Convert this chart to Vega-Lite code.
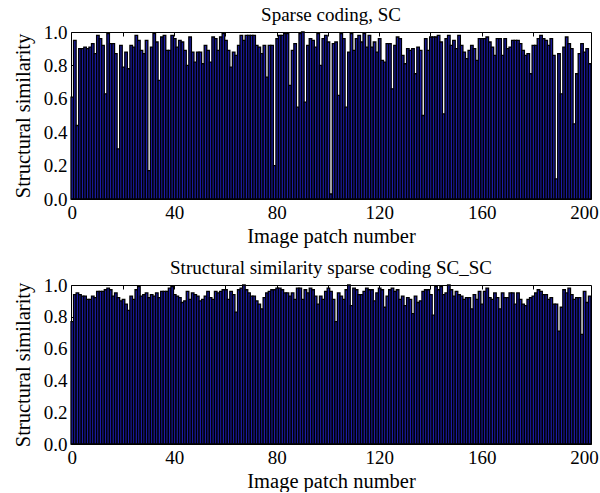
{
"$schema": "https://vega.github.io/schema/vega-lite/v6.json",
"background": "white",
"padding": {"left": 12, "top": 5, "right": 0, "bottom": 0},
"config": {
 "font": "Liberation Serif",
 "view": {"stroke": "black", "strokeWidth": 1},
 "axis": {"labelFont": "Liberation Serif", "labelFontSize": 19, "labelColor": "black", "titleFont": "Liberation Serif", "titleFontSize": 20.5, "titleFontWeight": "normal", "titleColor": "black", "domain": false, "grid": false, "ticks": true, "tickSize": -4, "tickColor": "black", "labelPadding": 8, "zindex": 1},
 "axisX": {"titlePadding": 4},
 "axisY": {"titlePadding": 10},
 "title": {"font": "Liberation Serif", "fontSize": 19, "fontWeight": "normal", "color": "black", "offset": -2, "frame": "group"}
},
"datasets": {
 "sc": [{"i":0,"v":0.61},{"i":1,"v":0.95},{"i":2,"v":0.44},{"i":3,"v":0.90},{"i":4,"v":0.90},{"i":5,"v":0.91},{"i":6,"v":0.90},{"i":7,"v":0.91},{"i":8,"v":0.93},{"i":9,"v":0.87},{"i":10,"v":0.98},{"i":11,"v":0.96},{"i":12,"v":0.92},{"i":13,"v":0.63},{"i":14,"v":0.99},{"i":15,"v":0.93},{"i":16,"v":0.93},{"i":17,"v":0.87},{"i":18,"v":0.30},{"i":19,"v":0.92},{"i":20,"v":0.79},{"i":21,"v":0.88},{"i":22,"v":0.78},{"i":23,"v":0.92},{"i":24,"v":0.91},{"i":25,"v":0.98},{"i":26,"v":0.95},{"i":27,"v":0.89},{"i":28,"v":0.87},{"i":29,"v":0.95},{"i":30,"v":0.17},{"i":31,"v":0.91},{"i":32,"v":0.99},{"i":33,"v":0.94},{"i":34,"v":0.71},{"i":35,"v":0.97},{"i":36,"v":0.98},{"i":37,"v":0.89},{"i":38,"v":0.89},{"i":39,"v":0.98},{"i":40,"v":0.96},{"i":41,"v":0.91},{"i":42,"v":0.95},{"i":43,"v":0.94},{"i":44,"v":0.89},{"i":45,"v":0.80},{"i":46,"v":0.97},{"i":47,"v":0.88},{"i":48,"v":0.82},{"i":49,"v":0.88},{"i":50,"v":0.88},{"i":51,"v":0.81},{"i":52,"v":0.92},{"i":53,"v":0.89},{"i":54,"v":0.82},{"i":55,"v":0.97},{"i":56,"v":0.96},{"i":57,"v":0.89},{"i":58,"v":0.97},{"i":59,"v":0.99},{"i":60,"v":0.95},{"i":61,"v":0.89},{"i":62,"v":0.79},{"i":63,"v":0.88},{"i":64,"v":0.86},{"i":65,"v":0.92},{"i":66,"v":0.98},{"i":67,"v":0.95},{"i":68,"v":0.98},{"i":69,"v":0.98},{"i":70,"v":0.98},{"i":71,"v":0.98},{"i":72,"v":0.92},{"i":73,"v":0.91},{"i":74,"v":0.87},{"i":75,"v":0.92},{"i":76,"v":0.73},{"i":77,"v":0.92},{"i":78,"v":0.92},{"i":79,"v":0.20},{"i":80,"v":0.96},{"i":81,"v":0.98},{"i":82,"v":0.98},{"i":83,"v":0.99},{"i":84,"v":0.99},{"i":85,"v":0.68},{"i":86,"v":0.89},{"i":87,"v":0.93},{"i":88,"v":0.55},{"i":89,"v":0.99},{"i":90,"v":1.0},{"i":91,"v":0.58},{"i":92,"v":0.92},{"i":93,"v":0.96},{"i":94,"v":0.95},{"i":95,"v":0.91},{"i":96,"v":0.99},{"i":97,"v":0.80},{"i":98,"v":0.96},{"i":99,"v":0.98},{"i":100,"v":0.94},{"i":101,"v":0.03},{"i":102,"v":0.93},{"i":103,"v":0.94},{"i":104,"v":0.62},{"i":105,"v":0.99},{"i":106,"v":0.96},{"i":107,"v":0.55},{"i":108,"v":0.88},{"i":109,"v":0.99},{"i":110,"v":0.89},{"i":111,"v":0.96},{"i":112,"v":0.98},{"i":113,"v":0.94},{"i":114,"v":0.99},{"i":115,"v":0.91},{"i":116,"v":0.98},{"i":117,"v":0.91},{"i":118,"v":0.94},{"i":119,"v":0.88},{"i":120,"v":0.96},{"i":121,"v":0.83},{"i":122,"v":0.82},{"i":123,"v":0.93},{"i":124,"v":0.93},{"i":125,"v":0.66},{"i":126,"v":0.92},{"i":127,"v":0.97},{"i":128,"v":0.96},{"i":129,"v":0.86},{"i":130,"v":0.81},{"i":131,"v":0.90},{"i":132,"v":0.89},{"i":133,"v":0.90},{"i":134,"v":0.75},{"i":135,"v":0.91},{"i":136,"v":0.89},{"i":137,"v":0.50},{"i":138,"v":0.96},{"i":139,"v":0.89},{"i":140,"v":0.97},{"i":141,"v":0.97},{"i":142,"v":0.97},{"i":143,"v":0.98},{"i":144,"v":0.94},{"i":145,"v":0.51},{"i":146,"v":0.96},{"i":147,"v":0.98},{"i":148,"v":0.92},{"i":149,"v":0.95},{"i":150,"v":0.90},{"i":151,"v":0.98},{"i":152,"v":0.92},{"i":153,"v":0.88},{"i":154,"v":0.84},{"i":155,"v":0.89},{"i":156,"v":0.92},{"i":157,"v":0.90},{"i":158,"v":0.83},{"i":159,"v":0.96},{"i":160,"v":0.96},{"i":161,"v":0.96},{"i":162,"v":0.97},{"i":163,"v":0.94},{"i":164,"v":0.91},{"i":165,"v":0.86},{"i":166,"v":0.96},{"i":167,"v":0.96},{"i":168,"v":0.86},{"i":169,"v":0.96},{"i":170,"v":0.90},{"i":171,"v":0.91},{"i":172,"v":0.95},{"i":173,"v":0.95},{"i":174,"v":0.95},{"i":175,"v":0.93},{"i":176,"v":0.89},{"i":177,"v":0.86},{"i":178,"v":0.87},{"i":179,"v":0.75},{"i":180,"v":0.92},{"i":181,"v":0.92},{"i":182,"v":0.96},{"i":183,"v":0.98},{"i":184,"v":0.96},{"i":185,"v":0.95},{"i":186,"v":0.92},{"i":187,"v":0.96},{"i":188,"v":0.86},{"i":189,"v":0.12},{"i":190,"v":0.87},{"i":191,"v":0.63},{"i":192,"v":0.91},{"i":193,"v":0.97},{"i":194,"v":0.93},{"i":195,"v":0.90},{"i":196,"v":0.45},{"i":197,"v":0.75},{"i":198,"v":0.87},{"i":199,"v":0.93},{"i":200,"v":0.88},{"i":201,"v":0.90},{"i":202,"v":0.81}],
 "scsc": [{"i":0,"v":0.77},{"i":1,"v":0.94},{"i":2,"v":0.95},{"i":3,"v":0.94},{"i":4,"v":0.93},{"i":5,"v":0.93},{"i":6,"v":0.91},{"i":7,"v":0.91},{"i":8,"v":0.93},{"i":9,"v":0.92},{"i":10,"v":0.96},{"i":11,"v":0.96},{"i":12,"v":0.96},{"i":13,"v":0.97},{"i":14,"v":0.98},{"i":15,"v":0.97},{"i":16,"v":0.93},{"i":17,"v":0.95},{"i":18,"v":0.92},{"i":19,"v":0.90},{"i":20,"v":0.91},{"i":21,"v":0.88},{"i":22,"v":0.84},{"i":23,"v":0.93},{"i":24,"v":0.91},{"i":25,"v":0.97},{"i":26,"v":0.99},{"i":27,"v":0.93},{"i":28,"v":0.94},{"i":29,"v":0.95},{"i":30,"v":0.92},{"i":31,"v":0.94},{"i":32,"v":0.93},{"i":33,"v":0.95},{"i":34,"v":0.92},{"i":35,"v":0.96},{"i":36,"v":0.96},{"i":37,"v":0.96},{"i":38,"v":0.98},{"i":39,"v":0.99},{"i":40,"v":0.94},{"i":41,"v":0.93},{"i":42,"v":0.92},{"i":43,"v":0.89},{"i":44,"v":0.90},{"i":45,"v":0.96},{"i":46,"v":0.91},{"i":47,"v":0.95},{"i":48,"v":0.94},{"i":49,"v":0.93},{"i":50,"v":0.90},{"i":51,"v":0.91},{"i":52,"v":0.93},{"i":53,"v":0.96},{"i":54,"v":0.92},{"i":55,"v":0.91},{"i":56,"v":0.96},{"i":57,"v":0.95},{"i":58,"v":0.96},{"i":59,"v":0.97},{"i":60,"v":0.97},{"i":61,"v":0.91},{"i":62,"v":0.96},{"i":63,"v":0.94},{"i":64,"v":0.83},{"i":65,"v":0.97},{"i":66,"v":0.98},{"i":67,"v":1.0},{"i":68,"v":0.97},{"i":69,"v":0.95},{"i":70,"v":0.93},{"i":71,"v":0.93},{"i":72,"v":0.90},{"i":73,"v":0.88},{"i":74,"v":0.85},{"i":75,"v":0.92},{"i":76,"v":0.95},{"i":77,"v":0.96},{"i":78,"v":0.97},{"i":79,"v":0.97},{"i":80,"v":0.98},{"i":81,"v":0.98},{"i":82,"v":0.97},{"i":83,"v":0.95},{"i":84,"v":0.95},{"i":85,"v":0.93},{"i":86,"v":0.95},{"i":87,"v":0.91},{"i":88,"v":0.98},{"i":89,"v":0.98},{"i":90,"v":0.91},{"i":91,"v":0.97},{"i":92,"v":0.95},{"i":93,"v":0.98},{"i":94,"v":0.97},{"i":95,"v":0.93},{"i":96,"v":0.88},{"i":97,"v":0.93},{"i":98,"v":0.91},{"i":99,"v":0.96},{"i":100,"v":0.98},{"i":101,"v":0.96},{"i":102,"v":0.91},{"i":103,"v":0.77},{"i":104,"v":0.95},{"i":105,"v":0.93},{"i":106,"v":0.91},{"i":107,"v":0.97},{"i":108,"v":1.0},{"i":109,"v":0.87},{"i":110,"v":0.98},{"i":111,"v":0.97},{"i":112,"v":0.94},{"i":113,"v":0.94},{"i":114,"v":0.96},{"i":115,"v":0.98},{"i":116,"v":0.97},{"i":117,"v":0.97},{"i":118,"v":0.90},{"i":119,"v":0.95},{"i":120,"v":0.98},{"i":121,"v":0.97},{"i":122,"v":0.86},{"i":123,"v":0.93},{"i":124,"v":0.97},{"i":125,"v":0.98},{"i":126,"v":0.96},{"i":127,"v":0.97},{"i":128,"v":0.91},{"i":129,"v":0.93},{"i":130,"v":0.87},{"i":131,"v":0.92},{"i":132,"v":0.91},{"i":133,"v":0.82},{"i":134,"v":0.93},{"i":135,"v":0.89},{"i":136,"v":0.90},{"i":137,"v":0.96},{"i":138,"v":0.97},{"i":139,"v":0.97},{"i":140,"v":0.94},{"i":141,"v":0.81},{"i":142,"v":0.99},{"i":143,"v":0.97},{"i":144,"v":0.99},{"i":145,"v":0.94},{"i":146,"v":0.95},{"i":147,"v":1.0},{"i":148,"v":0.97},{"i":149,"v":0.93},{"i":150,"v":0.96},{"i":151,"v":0.94},{"i":152,"v":0.93},{"i":153,"v":0.91},{"i":154,"v":0.92},{"i":155,"v":0.92},{"i":156,"v":0.85},{"i":157,"v":0.94},{"i":158,"v":0.91},{"i":159,"v":0.96},{"i":160,"v":0.88},{"i":161,"v":0.96},{"i":162,"v":0.98},{"i":163,"v":0.92},{"i":164,"v":0.91},{"i":165,"v":0.95},{"i":166,"v":0.92},{"i":167,"v":0.85},{"i":168,"v":0.95},{"i":169,"v":0.92},{"i":170,"v":0.92},{"i":171,"v":0.95},{"i":172,"v":0.95},{"i":173,"v":0.88},{"i":174,"v":0.95},{"i":175,"v":0.91},{"i":176,"v":0.88},{"i":177,"v":0.87},{"i":178,"v":0.91},{"i":179,"v":0.92},{"i":180,"v":0.93},{"i":181,"v":0.95},{"i":182,"v":0.97},{"i":183,"v":0.96},{"i":184,"v":0.94},{"i":185,"v":0.94},{"i":186,"v":0.91},{"i":187,"v":0.92},{"i":188,"v":0.88},{"i":189,"v":0.88},{"i":190,"v":0.71},{"i":191,"v":0.86},{"i":192,"v":0.97},{"i":193,"v":0.95},{"i":194,"v":0.98},{"i":195,"v":0.94},{"i":196,"v":0.91},{"i":197,"v":0.92},{"i":198,"v":0.92},{"i":199,"v":0.69},{"i":200,"v":0.96},{"i":201,"v":0.89},{"i":202,"v":0.93}]
},
"spacing": 11,
"vconcat": [
 {
  "width": 520, "height": 167,
  "data": {"name": "sc"},
  "title": {"text": "Sparse coding, SC"},
  "resolve": {"axis": {"x": "independent", "y": "independent"}},
  "layer": [
   {
    "mark": {"type": "bar", "fill": "#1c1ca6", "stroke": "black", "strokeWidth": 1.3},
    "encoding": {
     "x": {"field": "i", "type": "ordinal", "scale": {"paddingInner": 0, "paddingOuter": 0}, "axis": {"values": [0,40,80,120,160,200], "labelAngle": 0, "title": "Image patch number"}},
     "y": {"field": "v", "type": "quantitative", "scale": {"domain": [0, 1], "nice": false}, "axis": {"values": [0, 0.2, 0.4, 0.6, 0.8, 1.0], "format": ".1f", "title": "Structural similarity"}}
    }
   },
   {
    "mark": {"type": "bar", "opacity": 0},
    "encoding": {
     "x": {"field": "i", "type": "ordinal", "axis": {"orient": "top", "values": [20,40,60,80,100,120,140,160,180], "labels": false, "title": null}},
     "y": {"field": "v", "type": "quantitative", "axis": {"orient": "right", "values": [0.2, 0.4, 0.6, 0.8], "labels": false, "title": null}}
    }
   }
  ]
 },
 {
  "width": 520, "height": 159,
  "data": {"name": "scsc"},
  "title": {"text": "Structural similarity sparse coding SC_SC"},
  "resolve": {"axis": {"x": "independent", "y": "independent"}},
  "layer": [
   {
    "mark": {"type": "bar", "fill": "#1c1ca6", "stroke": "black", "strokeWidth": 1.3},
    "encoding": {
     "x": {"field": "i", "type": "ordinal", "scale": {"paddingInner": 0, "paddingOuter": 0}, "axis": {"values": [0,40,80,120,160,200], "labelAngle": 0, "title": "Image patch number"}},
     "y": {"field": "v", "type": "quantitative", "scale": {"domain": [0, 1], "nice": false}, "axis": {"values": [0, 0.2, 0.4, 0.6, 0.8, 1.0], "format": ".1f", "title": "Structural similarity"}}
    }
   },
   {
    "mark": {"type": "bar", "opacity": 0},
    "encoding": {
     "x": {"field": "i", "type": "ordinal", "axis": {"orient": "top", "values": [20,40,60,80,100,120,140,160,180], "labels": false, "title": null}},
     "y": {"field": "v", "type": "quantitative", "axis": {"orient": "right", "values": [0.2, 0.4, 0.6, 0.8], "labels": false, "title": null}}
    }
   }
  ]
 }
]
}
